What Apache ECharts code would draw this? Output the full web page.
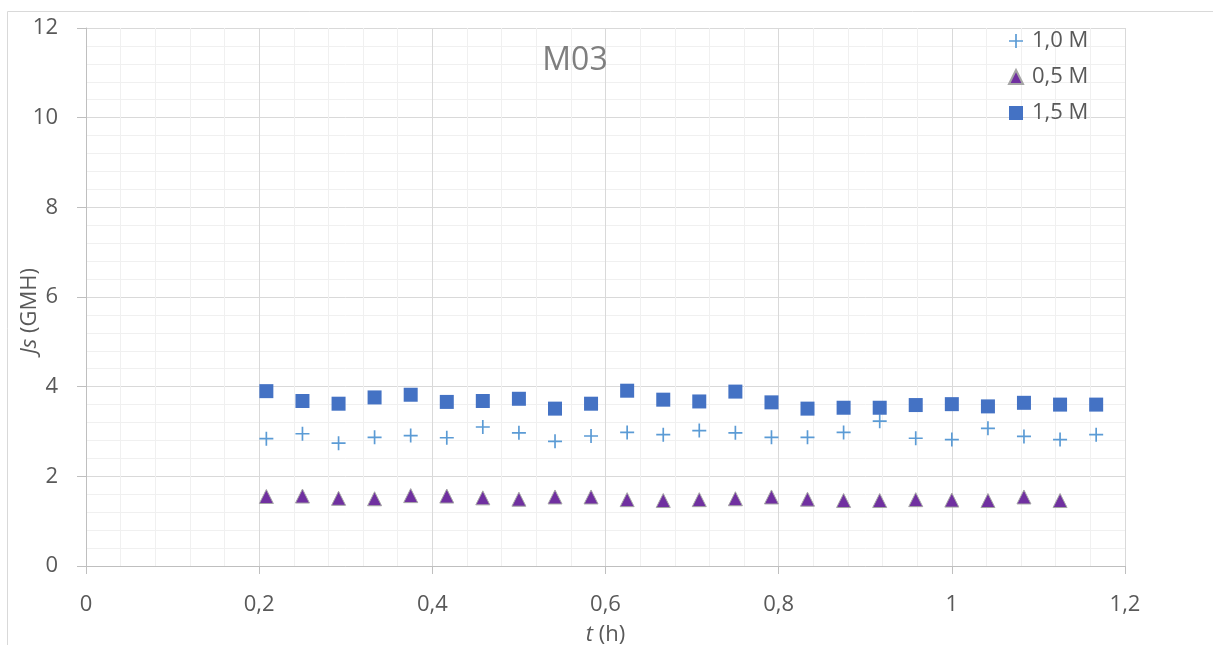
<!DOCTYPE html>
<html>
<head>
<meta charset="utf-8">
<script src="https://cdn.jsdelivr.net/npm/echarts@6/dist/echarts.min.js"></script>
<style>
  html, body { margin: 0; padding: 0; background: #fff; }
  #chart { width: 1213px; height: 645px; }
</style>
</head>
<body>
<div id="chart"></div>
<script>
// time stamps (h), one sample every 2.5 min
var tHours = [0.2083, 0.25, 0.2917, 0.3333, 0.375, 0.4167, 0.4583, 0.5, 0.5417, 0.5833,
  0.625, 0.6667, 0.7083, 0.75, 0.7917, 0.8333, 0.875, 0.9167, 0.9583, 1.0,
  1.0417, 1.0833, 1.125, 1.1667];

var js10 = [2.84, 2.95, 2.74, 2.87, 2.91, 2.86, 3.10, 2.97, 2.78, 2.90,
  2.98, 2.93, 3.02, 2.97, 2.87, 2.87, 2.98, 3.23, 2.85, 2.82,
  3.07, 2.89, 2.82, 2.93];
var js05 = [1.55, 1.56, 1.51, 1.50, 1.57, 1.56, 1.52, 1.49, 1.54, 1.54,
  1.48, 1.46, 1.48, 1.50, 1.54, 1.49, 1.46, 1.46, 1.48, 1.47,
  1.46, 1.54, 1.46];
var js15 = [3.90, 3.68, 3.62, 3.76, 3.82, 3.66, 3.68, 3.73, 3.51, 3.62,
  3.91, 3.71, 3.67, 3.89, 3.65, 3.51, 3.53, 3.53, 3.59, 3.61,
  3.56, 3.64, 3.60, 3.60];

var seriesNames = ['1,0 M', '0,5 M', '1,5 M'];

function pairs(xs, ys) {
  return ys.map(function (y, i) { return [xs[i], y]; });
}

var ink = '#595959';
var font = '"Open Sans", sans-serif';
var fs = 22;
var plus = 'path://M4.4,0h1.2v10h-1.2zM0,4.4h10v1.2h-10z';
var rich = { i: { fontStyle: 'italic', fontSize: fs, color: ink, fontFamily: font } };

var chart = echarts.init(document.getElementById('chart'), null, { renderer: 'canvas' });

chart.setOption({
  animation: false,
  textStyle: { fontFamily: font },
  grid: { left: 86, right: 88, top: 28, bottom: 79, outerBoundsMode: 'none' },
  title: {
    text: 'M03',
    left: 570, top: 40,
    textAlign: 'center',
    textStyle: { color: '#7f7f7f', fontSize: 32, fontWeight: 'normal', fontFamily: font }
  },
  legend: {
    orient: 'vertical',
    left: 1003, top: 25,
    itemWidth: 14, itemHeight: 14, itemGap: 14,
    data: seriesNames,
    textStyle: { color: ink, fontSize: fs, lineHeight: 20, fontFamily: font, padding: [0, 0, 0, 4] }
  },
  graphic: [
    {
      type: 'rect', silent: true, z: -10,
      shape: { x: 7.5, y: 11.5, width: 1300, height: 700 },
      style: { fill: 'none', stroke: '#d9d9d9', lineWidth: 1 }
    },
    {
      // y axis title, Excel puts it a bit below the plot centre
      type: 'text', x: 30, y: 311, rotation: Math.PI / 2,
      style: {
        text: '{i|Js} (GMH)', rich: rich,
        fill: ink, fontSize: fs, fontFamily: font,
        align: 'center', verticalAlign: 'middle'
      }
    }
  ],
  xAxis: {
    type: 'value', min: 0, max: 1.2, interval: 0.2,
    name: '{i|t} (h)',
    nameLocation: 'middle', nameGap: 58,
    nameTextStyle: { color: ink, fontSize: fs, fontFamily: font, rich: rich },
    axisLine: { show: true, onZero: false, lineStyle: { color: '#bfbfbf', width: 1 } },
    axisTick: { show: true, length: 8, lineStyle: { color: '#bfbfbf' } },
    axisLabel: {
      color: ink, fontSize: fs, margin: 28, fontFamily: font,
      formatter: function (v) { return String(+v.toFixed(1)).replace('.', ','); }
    },
    splitLine: { show: true, lineStyle: { color: '#d9d9d9', width: 1 } },
    minorTick: { show: false, splitNumber: 5 },
    minorSplitLine: { show: true, lineStyle: { color: '#f0f0f0', width: 1 } }
  },
  yAxis: {
    type: 'value', min: 0, max: 12, interval: 2,
    axisLine: { show: true, onZero: false, lineStyle: { color: '#bfbfbf', width: 1 } },
    axisTick: { show: true, length: 9, lineStyle: { color: '#bfbfbf' } },
    axisLabel: { color: ink, fontSize: fs, margin: 28, fontFamily: font },
    splitLine: { show: true, lineStyle: { color: '#d9d9d9', width: 1 } },
    minorTick: { show: false, splitNumber: 5 },
    minorSplitLine: { show: true, lineStyle: { color: '#f0f0f0', width: 1 } }
  },
  series: [
    {
      name: seriesNames[0], type: 'scatter',
      symbol: plus, symbolSize: 14,
      itemStyle: { color: '#5b9bd5', opacity: 1 },
      data: pairs(tHours, js10)
    },
    {
      name: seriesNames[1], type: 'scatter',
      symbol: 'triangle', symbolSize: 14,
      itemStyle: { color: '#7030a0', borderColor: '#a5a5a5', borderWidth: 1, opacity: 1 },
      data: pairs(tHours, js05)
    },
    {
      name: seriesNames[2], type: 'scatter',
      symbol: 'rect', symbolSize: 14,
      itemStyle: { color: '#4472c4', opacity: 1 },
      data: pairs(tHours, js15)
    }
  ]
});
</script>
</body>
</html>
